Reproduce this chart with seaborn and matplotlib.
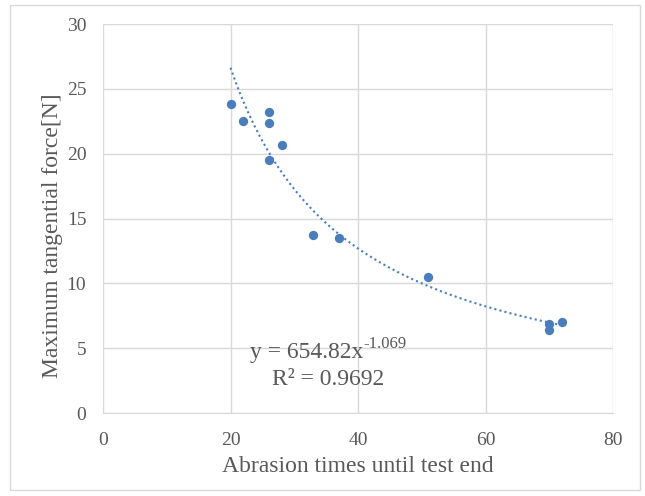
import numpy as np
import pandas as pd
import matplotlib
matplotlib.use("Agg")
import matplotlib.pyplot as plt
import seaborn as sns
from matplotlib.patches import Rectangle

# Measured data
abrasion_times = [20, 22, 26, 26, 26, 28, 33, 37, 51, 70, 70, 72]
max_force = [23.8, 22.5, 23.2, 22.4, 19.5, 20.7, 13.7, 13.5, 10.5, 6.9, 6.4, 7.0]

# Power trendline y = a * x^b
coef_a = 654.82
coef_b = -1.069
r_squared = 0.9692

df = pd.DataFrame({"x": abrasion_times, "y": max_force})
x_fit = np.linspace(min(abrasion_times), max(abrasion_times), 200)
fit = pd.DataFrame({"x": x_fit, "y": coef_a * x_fit ** coef_b})

sns.set_style("white")
plt.rcParams["font.family"] = ["Liberation Serif", "DejaVu Serif"]

text_color = "#595959"
grid_color = "#d9d9d9"
point_color = "#4A7EBB"

fig = plt.figure(figsize=(6.45, 4.96), dpi=100)
ax = fig.add_axes([0.1597, 0.1673, 0.7907, 0.7843])

sns.lineplot(data=fit, x="x", y="y", ax=ax, color=point_color,
             linestyle=(0, (1, 1.5)), linewidth=1.5, zorder=2)
sns.scatterplot(data=df, x="x", y="y", ax=ax, color=point_color,
                s=45, edgecolor=point_color, linewidth=0, zorder=3)

ax.set_xlim(0, 80)
ax.set_ylim(0, 30)
ax.set_xticks(range(0, 81, 20))
ax.set_yticks(range(0, 31, 5))
ax.grid(True, color=grid_color, linewidth=1)
ax.set_axisbelow(True)
for side in ["top", "right", "left"]:
    ax.spines[side].set_visible(False)
ax.spines["bottom"].set_color(grid_color)
ax.tick_params(axis="both", length=0, labelsize=14, colors=text_color)
ax.tick_params(axis="x", pad=14)
ax.tick_params(axis="y", pad=12)

ax.set_xlabel("Abrasion times until test end", fontsize=17, color=text_color, labelpad=5)
ax.set_ylabel("Maximum tangential force[N]", fontsize=17, color=text_color)
ax.yaxis.set_label_coords(-0.078, 0.456)

# Trendline equation
eq = ax.text(23.0, 4.25, f"y = {coef_a}x", fontsize=17, color=text_color, va="baseline")
ax.annotate(f"{coef_b}", xy=(1, 1), xycoords=eq, xytext=(0, 4), textcoords="offset points",
            fontsize=12, color=text_color, ha="left", va="top")
ax.text(26.5, 2.15, f"R² = {r_squared}", fontsize=17, color=text_color, va="baseline")

fig.patches.append(Rectangle((0.016, 0.012), 0.977, 0.978, transform=fig.transFigure,
                             fill=False, edgecolor=grid_color, linewidth=1))

fig.savefig("out.png", dpi=100)
